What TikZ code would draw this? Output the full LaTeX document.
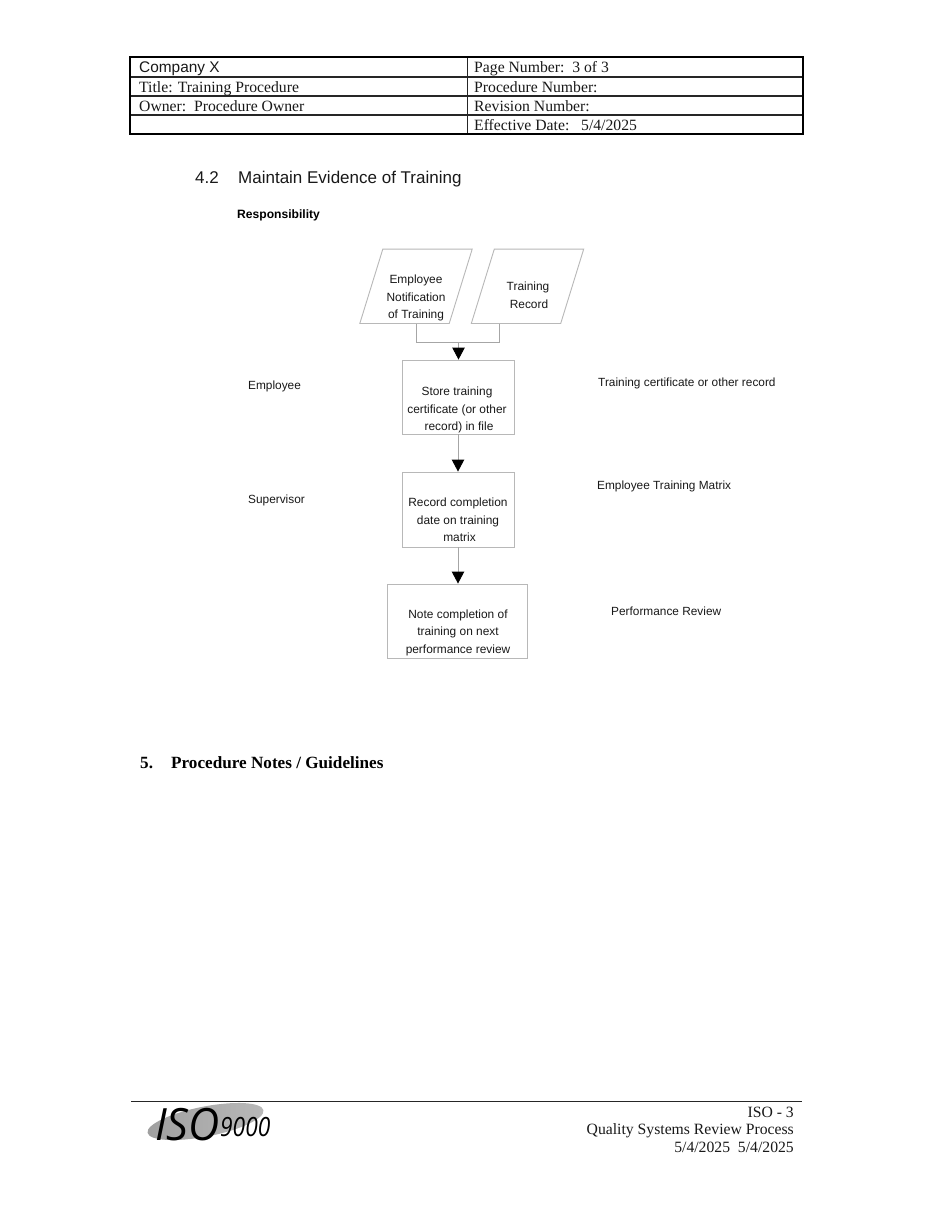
\documentclass[tikz,border=0pt]{standalone}
\usepackage{fontspec}
\setmainfont{Liberation Serif}
\newfontfamily\arial{Liberation Sans}
\newfontfamily\logofont{Open Sans}
\usetikzlibrary{arrows.meta,shapes.geometric,calc}
\definecolor{boxline}{gray}{0.72}
\definecolor{conline}{gray}{0.65}
\newcommand{\paraoutline}[1]{\draw[draw=boxline,line width=0.9pt] ($(#1.north west)+(23,0)$) -- (#1.north east) -- ($(#1.south east)+(-23,0)$) -- (#1.south west) -- cycle;}
\tikzset{
  x=1pt,y=-1pt,
  flowbox/.style={draw=boxline,line width=0.9pt,fill=white,inner sep=0pt},
  parabox/.style={inner sep=0pt,minimum width=112pt,minimum height=74pt},
  flowtxt/.style={inner sep=0pt,align=center,font=\arial\fontsize{11.9}{17.5}\selectfont,text=black!90},
  sidetxt/.style={inner sep=0pt,anchor=base west,font=\arial\fontsize{11.85}{14}\selectfont,text=black!90},
  cell/.style={inner sep=0pt,anchor=base west,font=\fontsize{15.7}{18}\selectfont,text=black!90},
  foot/.style={inner sep=0pt,anchor=base east,font=\fontsize{15.7}{18}\selectfont,text=black!90},
  conn/.style={draw=conline,line width=0.9pt},
  arrowconn/.style={conn,-{Triangle[width=12.5pt,length=12pt,fill=black,color=black]}},
}
\begin{document}
\begin{tikzpicture}
\useasboundingbox[fill=white] (0,0) rectangle (950,1230);
% header table
\draw[line width=1.4pt,black!85] (130,77)--(803,77) (130,96)--(803,96) (130,115)--(803,115);
\draw[line width=0.9pt,black!85] (467,57)--(467,134);
\draw[line width=2.8pt,black] (130,57) rectangle (803,134);
\node[cell,font=\arial\fontsize{15.4}{18}\selectfont] (c1) at (139,73) {Company X};
\node[cell] (c2) at (139,93) {Title: Training Procedure};
\node[cell] (c3) at (139,112) {Owner:\ \ Procedure Owner};
\node[cell] (d1) at (474,73) {Page Number:\ \ 3 of 3};
\node[cell] (d2) at (474,93) {Procedure Number:};
\node[cell] (d3) at (474,112) {Revision Number:};
\node[cell] (d4) at (474,131) {Effective Date:\ \ \ 5/4/2025};
% headings
\node[inner sep=0pt,anchor=base west,font=\arial\fontsize{17}{20}\selectfont,text=black!90] (h1) at (195,183.5) {4.2};
\node[inner sep=0pt,anchor=base west,font=\arial\fontsize{17}{20}\selectfont,text=black!90] (h2) at (238,183.5) {Maintain Evidence of Training};
\node[inner sep=0pt,anchor=base west,font=\arial\bfseries\fontsize{12.1}{14}\selectfont,text=black] (resp) at (237,219) {Responsibility};
% flow shapes
\node[parabox] (emp) at (416,286.3) {};
\paraoutline{emp}
\node[parabox] (rec) at (527.5,286.3) {};
\paraoutline{rec}
\node[flowbox,minimum width=112pt,minimum height=74pt] (store) at (458,397) {};
\node[flowbox,minimum width=112pt,minimum height=75pt] (matrix) at (458,509.5) {};
\node[flowbox,minimum width=140pt,minimum height=74pt] (note) at (457.5,621) {};
% flow text
\node[flowtxt] (t1) at (416,298) {Employee\\Notification\\of Training};
\node[flowtxt] (t2) at (528,295) {Training\\\hspace*{2pt}Record};
\node[flowtxt] (t3) at (457,410) {Store training\\certificate (or other\\\hspace*{4pt}record) in file};
\node[flowtxt] (t4) at (458,520) {Record completion\\date on training\\\hspace*{3pt}matrix};
\node[flowtxt] (t5) at (458,632.5) {Note completion of\\training on next\\performance review};
% connectors
\coordinate (empout) at (emp.south);
\coordinate (recout) at ($(rec.south)+(-28,0)$);
\coordinate (join) at (458.5,342);
\draw[conn] (empout) |- (recout |- join) -- (recout);
\draw[arrowconn] (join) -- (store.north -| join);
\draw[arrowconn] (store.south) -- (matrix.north);
\draw[arrowconn] (matrix.south) -- (note.north -| matrix.south);
% side labels
\node[sidetxt] (s1) at (248,389.5) {Employee};
\node[sidetxt] (s2) at (248,503) {Supervisor};
\node[sidetxt] (s3) at (598,386) {Training certificate or other record};
\node[sidetxt] (s4) at (597,489) {Employee Training Matrix};
\node[sidetxt] (s5) at (611,615) {Performance Review};
% section 5
\node[inner sep=0pt,anchor=base west,font=\bfseries\fontsize{17.15}{20}\selectfont,text=black] (sec1) at (140,768) {5.};
\node[inner sep=0pt,anchor=base west,font=\bfseries\fontsize{17.15}{20}\selectfont,text=black] (sec2) at (171,768) {Procedure Notes / Guidelines};
% footer
\node[foot] (f1) at (794,1117) {ISO - 3};
\node[foot] (f2) at (794,1134) {Quality Systems Review Process};
\node[foot] (f3) at (794,1152) {5/4/2025\ \ 5/4/2025};
% logo
\node[ellipse,minimum width=118pt,minimum height=30pt,inner sep=0pt,rotate=11,left color=gray!75,middle color=gray!30,right color=gray!55,shade] (oval) at (205.5,1121.5) {};
\draw[line width=1pt,black!85] (131,1101.5)--(802,1101.5);
\node[inner sep=0pt,anchor=base west,font=\logofont\itshape\fontsize{44.5}{44}\selectfont,text=black,xscale=0.97] (iso) at (155,1140) {ISO};
\node[inner sep=0pt,anchor=base west,font=\logofont\itshape\fontsize{26.5}{26}\selectfont,text=black,xscale=0.86] (n9000) at (220,1136) {9000};
\end{tikzpicture}
\end{document}
